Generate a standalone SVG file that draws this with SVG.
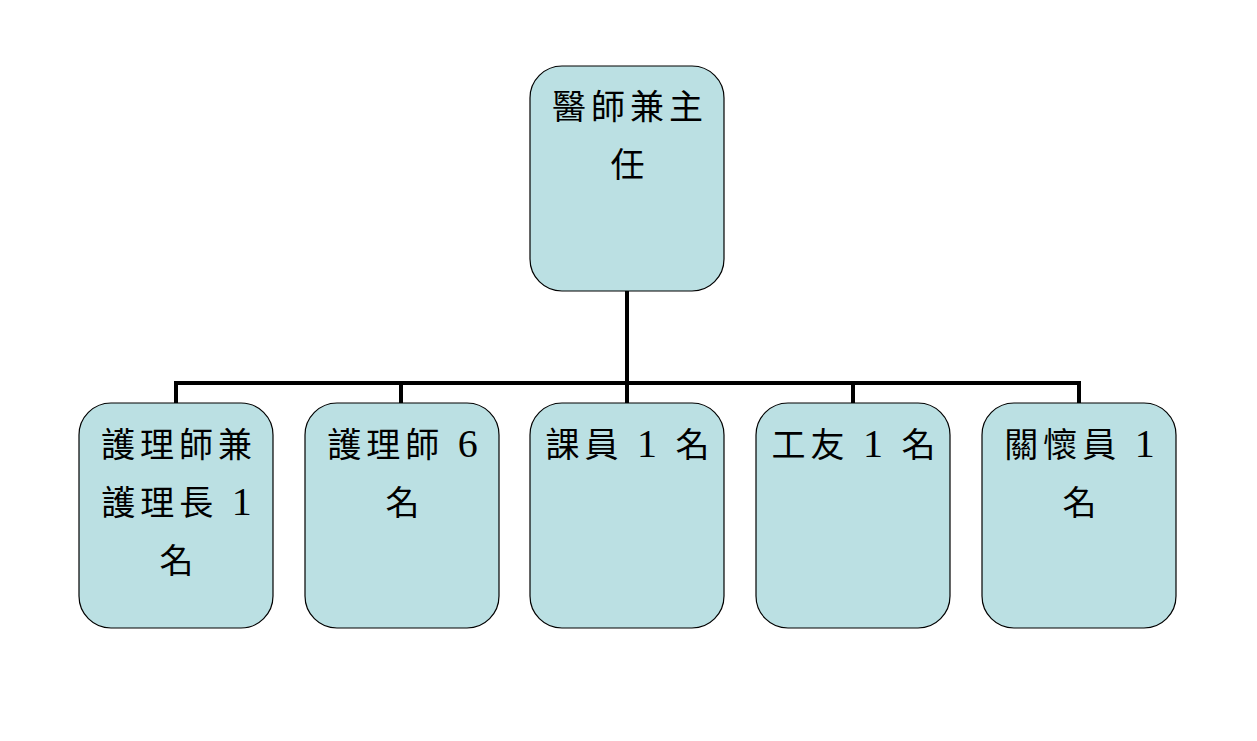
<svg xmlns="http://www.w3.org/2000/svg" width="1257" height="741" viewBox="0 0 1257 741">
<style>
.box{fill:#bbe0e3;stroke:#000;stroke-width:1.2}
.t{font-family:"Liberation Serif","Noto Sans CJK TC",serif;font-size:34px;fill:#000;text-anchor:middle;letter-spacing:5px}
.d{font-size:40px}
.c{fill:none;stroke:#000;stroke-width:4}
</style>
<rect width="1257" height="741" fill="#fff"/>
<g id="connectors">
<path class="c" d="M627 291V383M176 383H1079M176 381V403M401 381V403M627 381V403M853 381V403M1079 381V403"/>
</g>
<g id="n0"><rect class="box" x="530" y="66" width="194" height="225" rx="32"/>
<text class="t" x="630" y="119">醫師兼主</text><text class="t" x="630" y="177">任</text></g>
<g id="n1"><rect class="box" x="79" y="403" width="194" height="225" rx="32"/>
<text class="t" x="179" y="457">護理師兼</text><text class="t" x="179" y="515">護理長 <tspan class="d">1</tspan></text><text class="t" x="179" y="573">名</text></g>
<g id="n2"><rect class="box" x="305" y="403" width="194" height="225" rx="32"/>
<text class="t" x="405" y="457">護理師 <tspan class="d">6</tspan></text><text class="t" x="405" y="515">名</text></g>
<g id="n3"><rect class="box" x="530" y="403" width="194" height="225" rx="32"/>
<text class="t" x="630" y="457">課員 <tspan class="d">1</tspan> 名</text></g>
<g id="n4"><rect class="box" x="756" y="403" width="194" height="225" rx="32"/>
<text class="t" x="856" y="457">工友 <tspan class="d">1</tspan> 名</text></g>
<g id="n5"><rect class="box" x="982" y="403" width="194" height="225" rx="32"/>
<text class="t" x="1082" y="457">關懷員 <tspan class="d">1</tspan></text><text class="t" x="1082" y="515">名</text></g>
</svg>
